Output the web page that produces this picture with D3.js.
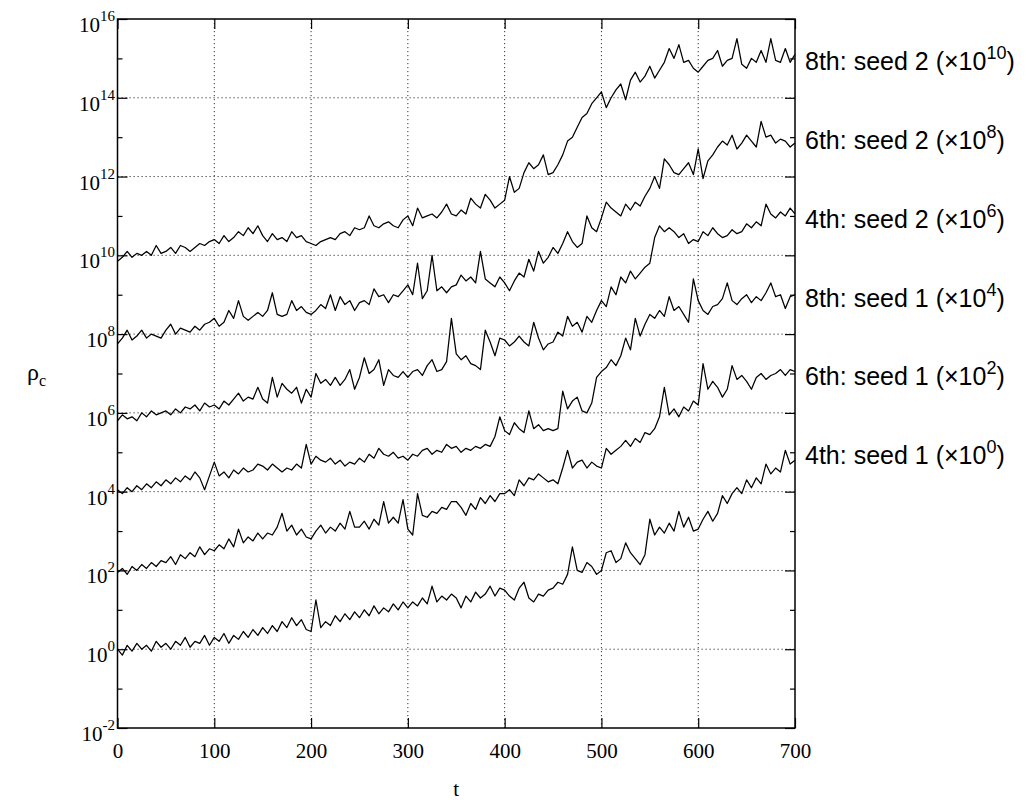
<!DOCTYPE html>
<html>
<head>
<meta charset="utf-8">
<script src="https://cdn.jsdelivr.net/npm/d3@7"></script>
<style>
  body { margin: 0; background: #fff; }
  .tick text { font-family: "Liberation Serif", "Times New Roman", serif; font-size: 21px; fill: #000; }
</style>
</head>
<body>
<div id="chart"></div>
<script>
// sampling grid of the curves (t units)
var tStep = 5;
var times = d3.range(0, 700 + tStep, tStep);

// log10(rho_c), one value every 5 time units (before the display factor)
var rho4thSeed1 = [
  0.0, -0.15, 0.1, -0.05, 0.15, 0.0, 0.1, -0.05, 0.2, 0.05,
  0.15, 0.0, 0.2, 0.1, 0.3, 0.05, 0.2, 0.15, 0.35, 0.1,
  0.3, 0.2, 0.4, 0.15, 0.35, 0.25, 0.45, 0.3, 0.5, 0.35,
  0.55, 0.4, 0.6, 0.45, 0.7, 0.55, 0.8, 0.6, 0.75, 0.5,
  0.45, 1.25, 0.55, 0.7, 0.6, 0.85, 0.7, 0.9, 0.75, 0.95,
  0.8, 1.0, 0.85, 1.1, 0.9, 1.05, 0.95, 1.15, 1.0, 1.2,
  1.05, 1.2, 1.1, 1.3, 1.15, 1.6, 1.2, 1.35, 1.25, 1.4,
  1.3, 1.05, 1.35, 1.2, 1.45, 1.3, 1.4, 1.6, 1.35, 1.55,
  1.5, 1.35, 1.25, 1.55, 1.7, 1.3, 1.2, 1.4, 1.35, 1.5,
  1.55, 1.7, 1.65, 1.9, 2.6, 2.0, 1.95, 2.2, 2.1, 1.9,
  2.0, 2.45, 2.5, 2.2, 2.3, 2.7, 2.45, 2.3, 2.15, 2.4,
  3.3, 2.9, 3.1, 2.95, 3.2, 3.0, 3.5, 3.1, 3.35, 3.0,
  3.05, 3.3, 3.5, 3.25, 3.45, 3.9, 3.7, 3.95, 4.1, 3.95,
  4.3, 4.1, 4.35, 4.2, 4.7, 4.45, 4.6, 4.5, 5.05, 4.7,
  4.8
];
var rho6thSeed1 = [
  -0.05, 0.05, -0.1, 0.1, 0.0, 0.15, 0.05, 0.2, 0.1, 0.25,
  0.2, 0.35, 0.15, 0.4, 0.3, 0.45, 0.35, 0.6, 0.4, 0.55,
  0.5, 0.65, 0.55, 0.8, 0.6, 1.05, 0.7, 0.85, 0.75, 0.95,
  0.8, 0.95, 0.9, 1.1, 1.45, 1.0, 1.15, 0.9, 1.05, 0.85,
  0.8, 1.0, 1.15, 0.95, 1.1, 1.0, 1.2, 1.05, 1.5, 1.1,
  1.1, 1.25, 1.05, 1.3, 1.15, 1.75, 1.2, 1.35, 1.2, 1.8,
  1.05, 0.9, 1.95, 1.4, 1.35, 1.5, 1.45, 1.6, 1.55, 1.75,
  1.75, 1.6, 1.4, 1.7, 1.55, 1.85, 1.7, 1.9, 1.75, 1.95,
  1.95, 2.05, 1.9, 2.3, 2.15, 2.35, 2.3, 2.45, 2.35, 2.25,
  2.3, 2.2, 2.6, 3.05, 2.6, 2.75, 2.8, 2.6, 2.75, 2.65,
  2.6, 3.1, 2.95, 3.05, 3.15, 3.3, 3.15, 3.35, 3.25, 3.5,
  3.45, 3.6, 3.9, 4.65, 3.95, 4.1, 3.9, 4.15, 4.05, 4.3,
  4.2, 5.25, 4.6, 4.8, 4.65, 4.4, 4.6, 5.2, 4.85, 4.95,
  4.8, 4.6, 4.9, 5.0, 4.85, 4.95, 5.0, 5.1, 4.95, 5.1,
  5.05
];
var rho8thSeed1 = [
  0.05, -0.05, 0.1, 0.0, 0.15, 0.05, 0.2, 0.1, 0.25, 0.15,
  0.3, 0.2, 0.35, 0.25, 0.4, 0.3, 0.5, 0.35, 0.05, 0.4,
  0.75, 0.4, 0.5, 0.35, 0.55, 0.45, 0.6, 0.5, 0.55, 0.7,
  0.65, 0.55, 0.7, 0.6, 0.5, 0.6, 0.55, 0.7, 0.6, 1.2,
  0.7, 0.9, 0.8, 0.75, 0.85, 0.7, 0.8, 0.65, 0.75, 0.7,
  0.85, 0.75, 0.95, 0.85, 1.1, 0.95, 0.9, 1.0, 0.85, 0.9,
  0.8, 0.95, 0.9, 1.05, 1.1, 0.95, 1.05, 1.0, 1.2, 1.1,
  1.15, 1.0, 1.1, 1.05, 1.15, 1.1, 1.2, 1.15, 1.4, 1.9,
  1.55, 1.45, 1.75, 1.6, 1.5, 2.05, 1.6, 1.7, 1.55, 1.6,
  1.55, 1.6, 2.55, 2.1, 2.3, 2.4, 2.05, 2.0, 2.25, 2.9,
  3.05, 3.15, 3.35, 3.2, 3.45, 3.9, 3.6, 4.4, 3.95, 4.25,
  4.5, 4.4, 4.6, 4.45, 4.95, 4.6, 4.7, 4.5, 4.3, 5.4,
  4.85, 4.6, 4.5, 4.7, 4.75, 4.9, 5.3, 4.85, 4.75, 4.9,
  5.0, 4.8, 4.95, 4.85, 5.05, 5.3, 4.95, 5.0, 4.65, 4.95,
  5.0
];
var rho4thSeed2 = [
  -0.2, -0.05, -0.15, -0.1, -0.2, 0.0, -0.1, 0.05, -0.05, 0.0,
  0.05, -0.05, 0.1, 0.0, 0.15, 0.1, 0.2, 0.05, 0.25, 0.15,
  0.2, 0.1, 0.3, 0.2, 0.35, 0.5, 0.3, 0.4, 0.35, 0.65,
  0.35, 0.25, 0.9, 0.4, 0.75, 0.6, 0.5, 0.65, 0.25, 0.6,
  0.4, 1.0, 0.75, 0.85, 0.7, 0.9, 0.7, 0.85, 1.1, 0.6,
  0.9, 1.4, 1.0, 1.1, 1.35, 0.7, 1.1, 0.95, 0.9, 1.05,
  0.9, 1.05, 1.1, 0.95, 1.2, 1.35, 1.05, 1.1, 1.3, 2.4,
  1.5, 1.35, 1.45, 1.25, 1.2, 1.1, 2.1, 1.8, 1.45, 1.9,
  1.85, 1.7, 1.8, 1.95, 1.8, 1.7, 2.3, 1.9, 1.6, 1.75,
  1.8, 2.05, 1.95, 2.45, 2.2, 2.3, 2.05, 2.45, 2.3, 2.6,
  2.85, 2.7, 3.2, 3.0, 3.45, 3.3, 3.6, 3.4, 3.55, 3.7,
  3.8, 4.45, 4.75, 4.6, 4.7, 4.6, 4.45, 4.55, 4.3, 4.4,
  4.35, 4.6, 4.5, 4.7, 4.55, 4.45, 4.5, 4.65, 4.55, 4.6,
  4.8, 4.7, 4.85, 4.75, 5.3, 5.05, 4.95, 5.1, 5.0, 5.2,
  5.05
];
var rho6thSeed2 = [
  -0.25, -0.1, 0.1, -0.15, -0.05, 0.1, -0.1, 0.0, -0.05, -0.1,
  0.1, 0.25, 0.0, 0.15, 0.1, 0.05, 0.2, 0.1, 0.25, 0.3,
  0.4, 0.2, 0.3, 0.6, 0.4, 0.85, 0.45, 0.35, 0.45, 0.55,
  0.45, 0.6, 1.05, 0.5, 0.45, 0.5, 0.85, 0.6, 0.7, 0.55,
  0.5, 0.6, 0.75, 0.65, 1.0, 0.6, 0.95, 0.75, 0.85, 0.6,
  0.8, 0.85, 0.75, 1.15, 0.95, 1.0, 0.8, 1.0, 0.95, 1.1,
  1.25, 1.0, 1.8, 0.9, 1.1, 2.0, 1.1, 1.2, 1.05, 1.2,
  1.25, 1.5, 1.35, 1.45, 1.3, 2.1, 1.4, 1.3, 1.2, 1.45,
  1.3, 1.1, 1.35, 1.55, 1.45, 1.9, 1.6, 2.1, 1.8, 1.95,
  2.2, 2.05, 2.3, 2.6, 2.35, 2.2, 2.3, 3.0, 2.7, 2.6,
  2.95, 3.35, 3.2, 3.1, 3.0, 3.3, 3.15, 3.35, 3.25, 3.5,
  3.7, 4.0, 3.7, 4.45, 4.3, 4.1, 4.05, 4.2, 4.35, 4.05,
  4.7, 3.95, 4.4, 4.55, 4.75, 4.9, 4.8, 5.05, 4.7, 4.85,
  5.05, 4.9, 4.75, 5.4, 5.0, 5.05, 4.85, 4.95, 4.9, 4.75,
  4.85
];
var rho8thSeed2 = [
  -0.15, -0.05, 0.1, -0.05, 0.05, 0.0, 0.1, 0.0, 0.25, 0.05,
  0.1, 0.2, 0.05, 0.25, 0.2, 0.1, 0.2, 0.3, 0.25, 0.35,
  0.4, 0.3, 0.5, 0.35, 0.45, 0.6, 0.5, 0.7, 0.55, 0.75,
  0.5, 0.35, 0.55, 0.4, 0.45, 0.35, 0.6, 0.45, 0.5, 0.35,
  0.3, 0.25, 0.35, 0.4, 0.45, 0.4, 0.55, 0.6, 0.5, 0.7,
  0.65, 0.7, 1.0, 0.75, 0.7, 0.8, 0.85, 0.75, 0.7, 0.9,
  1.0, 0.75, 1.2, 0.95, 1.0, 1.05, 0.95, 1.1, 1.3, 1.05,
  1.0, 1.15, 1.05, 1.45, 1.3, 1.2, 1.55, 1.4, 1.2, 1.3,
  1.4, 2.0, 1.6, 1.7, 2.1, 2.35, 2.2, 2.3, 2.55, 2.05,
  2.1, 2.3, 2.55, 2.9, 3.0, 3.25, 3.5, 3.6, 3.85, 4.0,
  4.15, 3.75, 4.0, 4.2, 4.35, 3.95, 4.45, 4.65, 4.4, 4.55,
  4.8, 4.5, 4.7, 4.9, 5.25, 5.0, 5.35, 4.9, 4.95, 4.75,
  4.65, 4.8, 4.95, 5.0, 5.2, 4.8, 4.95, 5.0, 5.5, 4.85,
  4.75, 5.0, 4.9, 5.2, 4.9, 5.5, 4.95, 4.9, 5.25, 4.9,
  5.1
];

var seriesList = [rho4thSeed1, rho6thSeed1, rho8thSeed1, rho4thSeed2, rho6thSeed2, rho8thSeed2];
var seriesNames = ["4th: seed 1", "6th: seed 1", "8th: seed 1", "4th: seed 2", "6th: seed 2", "8th: seed 2"];
var scaleExps = [0, 2, 4, 6, 8, 10];   // each curve is drawn times 10^k
var labelLift = 4.9;                   // label sits this many decades above 10^k

var xTicks = [0, 100, 200, 300, 400, 500, 600, 700];
var yMajorExps = [-2, 0, 2, 4, 6, 8, 10, 12, 14, 16];
var yMinorExps = [-1, 1, 3, 5, 7, 9, 11, 13, 15];

var width = 1026, height = 803;
var plot = {left: 117.5, right: 795, top: 19, bottom: 728};

var svg = d3.select("#chart").append("svg")
    .attr("width", width)
    .attr("height", height)
    .style("font-family", "'Liberation Serif', 'Times New Roman', serif");

svg.append("rect").attr("width", width).attr("height", height).attr("fill", "#fff");

var x = d3.scaleLinear().domain([0, 700]).range([plot.left, plot.right]);
var y = d3.scaleLog().domain([1e-2, 1e16]).range([plot.bottom, plot.top]);

// dotted grid
var grid = svg.append("g").attr("stroke", "#333").attr("stroke-width", 1).attr("stroke-dasharray", "1.2,2.8");
grid.selectAll("line.vg")
    .data(xTicks.filter(function(d) { return d > 0 && d < 700; }))
    .join("line").attr("class", "vg")
    .attr("x1", function(d) { return x(d); }).attr("x2", function(d) { return x(d); })
    .attr("y1", plot.top).attr("y2", plot.bottom);
grid.selectAll("line.hg")
    .data(yMajorExps.filter(function(e) { return e > -2 && e < 16; }))
    .join("line").attr("class", "hg")
    .attr("y1", function(e) { return y(Math.pow(10, e)); }).attr("y2", function(e) { return y(Math.pow(10, e)); })
    .attr("x1", plot.left).attr("x2", plot.right);

// curves
var line = d3.line()
    .x(function(d, i) { return x(times[i]); });
seriesList.forEach(function(vals, j) {
    svg.append("path")
        .datum(vals)
        .attr("class", "data" + j)
        .attr("d", line.y(function(d) { return y(Math.pow(10, d + scaleExps[j])); }))
        .attr("fill", "none")
        .attr("stroke", "#000")
        .attr("stroke-width", 1.25)
        .attr("stroke-linejoin", "round");
});

// ticks, all pointing inward
var majorVals = yMajorExps.map(function(e) { return Math.pow(10, e); });
var minorVals = yMinorExps.map(function(e) { return Math.pow(10, e); });
function styleAxis(g) {
    g.select(".domain").remove();
    g.selectAll(".tick line").attr("stroke", "#000").attr("stroke-width", 1.2);
}
svg.append("g").attr("transform", "translate(" + plot.left + ",0)")
    .call(d3.axisLeft(y).tickValues(majorVals).tickSize(-10).tickFormat(""))
    .call(styleAxis);
svg.append("g").attr("transform", "translate(" + plot.left + ",0)")
    .call(d3.axisLeft(y).tickValues(minorVals).tickSize(-5).tickFormat(""))
    .call(styleAxis);
svg.append("g").attr("transform", "translate(" + plot.right + ",0)")
    .call(d3.axisRight(y).tickValues(majorVals).tickSize(-10).tickFormat(""))
    .call(styleAxis);
svg.append("g").attr("transform", "translate(" + plot.right + ",0)")
    .call(d3.axisRight(y).tickValues(minorVals).tickSize(-5).tickFormat(""))
    .call(styleAxis);
svg.append("g").attr("transform", "translate(0," + plot.bottom + ")")
    .call(d3.axisBottom(x).tickValues(xTicks).tickSize(-10).tickPadding(15).tickFormat(d3.format("d")))
    .call(styleAxis);
svg.append("g").attr("transform", "translate(0," + plot.top + ")")
    .call(d3.axisTop(x).tickValues(xTicks).tickSize(-10).tickFormat(""))
    .call(styleAxis);

// frame
svg.append("rect")
    .attr("x", plot.left).attr("y", plot.top)
    .attr("width", plot.right - plot.left).attr("height", plot.bottom - plot.top)
    .attr("fill", "none").attr("stroke", "#000").attr("stroke-width", 1.5);

// y tick labels 10^n
var ylab = svg.append("g").attr("font-size", "21px");
yMajorExps.forEach(function(e) {
    var t = ylab.append("text")
        .attr("x", 115)
        .attr("y", y(Math.pow(10, e)) + 13)
        .attr("text-anchor", "end");
    t.append("tspan").text("10");
    t.append("tspan").attr("dy", -11).attr("font-size", "15px").text(e);
});

// axis titles
svg.append("text")
    .attr("x", x(350)).attr("y", 796)
    .attr("text-anchor", "middle")
    .attr("font-size", "21px")
    .text("t");
var rt = svg.append("text")
    .attr("x", 27).attr("y", 380)
    .attr("font-size", "24px");
rt.append("tspan").text("ρ");
rt.append("tspan").attr("dy", 6).attr("font-size", "16px").text("c");

// curve labels on the right
var labels = svg.append("g")
    .style("font-family", "'Liberation Sans', Arial, sans-serif")
    .attr("font-size", "25px");
seriesNames.forEach(function(name, j) {
    var t = labels.append("text")
        .attr("x", 805)
        .attr("y", y(Math.pow(10, scaleExps[j] + labelLift)) + 8);
    t.append("tspan").text(name + " (\u00d710");
    t.append("tspan").attr("dy", -11).attr("font-size", "18px").text(scaleExps[j]);
    t.append("tspan").attr("dy", 11).text(")");
});
</script>
</body>
</html>
